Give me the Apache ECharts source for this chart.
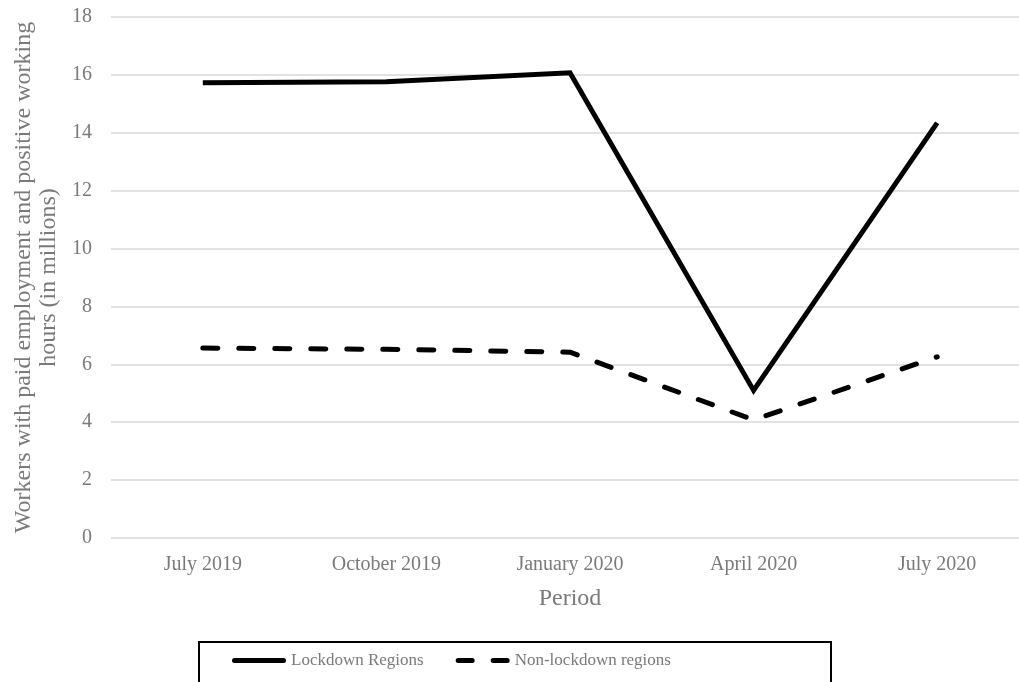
<!DOCTYPE html>
<html>
<head>
<meta charset="utf-8">
<script src="https://cdn.jsdelivr.net/npm/echarts@6/dist/echarts.min.js"></script>
<style>
html,body{margin:0;padding:0;background:#fff;}
#main{width:1019px;height:682px;}
</style>
</head>
<body>
<div id="main"></div>
<script>
var periods=['July 2019','October 2019','January 2020','April 2020','July 2020'];
var lockdown=[15.73,15.76,16.07,5.1,14.34];
var nonLockdown=[6.56,6.52,6.42,4.08,6.26];
var yTicks={min:0,max:18,step:2};

var font='"Liberation Serif", "DejaVu Serif", serif';
var grey='#7a7a7a';

var myChart=echarts.init(document.getElementById('main'));
myChart.setOption({
	backgroundColor:'#fff',
	animation:false,
	grid:{left:111,top:17,width:918,bottom:144,containLabel:false,outerBoundsMode:'none'},
	//图例外框
	graphic:[{
		type:'rect',
		left:198,
		top:641,
		shape:{width:632,height:60},
		style:{fill:'#fff',stroke:'#000',lineWidth:2},
		z:-1
	}],
	legend:{
		left:232,
		top:652,
		padding:0,
		itemWidth:54,
		itemHeight:5,
		itemGap:32,
		textStyle:{fontFamily:font,fontSize:17,color:grey},
		data:[
			{name:'Lockdown Regions',icon:'path://M2.5,0 h49 a2.5,2.5 0 0 1 0,5 h-49 a2.5,2.5 0 0 1 0,-5 z'},
			{name:'Non-lockdown regions',icon:'path://M2.5,0 h14 a2.5,2.5 0 0 1 0,5 h-14 a2.5,2.5 0 0 1 0,-5 z M37.5,0 h14 a2.5,2.5 0 0 1 0,5 h-14 a2.5,2.5 0 0 1 0,-5 z'}
		],
		itemStyle:{color:'#000',borderWidth:0}
	},
	xAxis:{
		type:'category',
		data:periods,
		boundaryGap:true,
		name:'Period',
		nameLocation:'middle',
		nameGap:49,
		nameTextStyle:{fontFamily:font,fontSize:24,color:grey},
		axisLine:{show:false},
		axisTick:{show:false},
		axisLabel:{fontFamily:font,fontSize:20,color:grey,margin:17}
	},
	yAxis:{
		type:'value',
		min:yTicks.min,
		max:yTicks.max,
		interval:yTicks.step,
		name:'Workers with paid employment and positive working\nhours (in millions)',
		nameLocation:'middle',
		nameGap:50,
		nameTextStyle:{fontFamily:font,fontSize:24,color:grey,lineHeight:25},
		axisLine:{show:false},
		axisTick:{show:false},
		axisLabel:{fontFamily:font,fontSize:20,color:grey,margin:19},
		splitLine:{lineStyle:{color:'#d9d9d9',width:1.5}}
	},
	series:[
		{
			name:'Lockdown Regions',
			type:'line',
			data:lockdown,
			symbol:'none',
			lineStyle:{color:'#000',width:5,join:'miter'},
			itemStyle:{color:'#000'}
		},
		{
			name:'Non-lockdown regions',
			type:'line',
			data:nonLockdown,
			symbol:'none',
			lineStyle:{color:'#000',width:5,type:[15,21],cap:'round'},
			itemStyle:{color:'#000'}
		}
	]
});
</script>
</body>
</html>
